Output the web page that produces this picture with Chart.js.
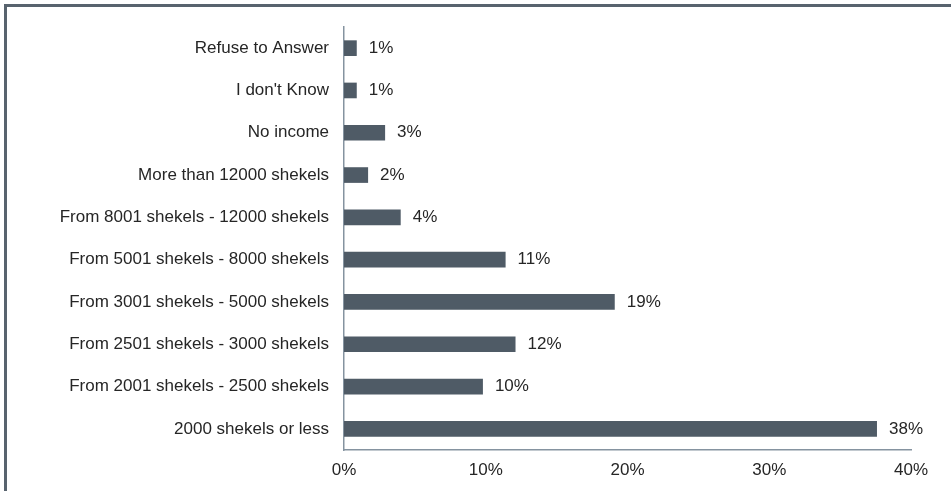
<!DOCTYPE html>
<html>
<head>
<meta charset="utf-8">
<script src="https://cdn.jsdelivr.net/npm/chart.js@4/dist/chart.umd.min.js"></script>
<style>
  html, body { margin: 0; padding: 0; background: #ffffff; }
  #wrap { position: relative; width: 951px; height: 491px; overflow: hidden; }
  #frame {
    position: absolute; left: 4px; top: 4px; right: -10px; bottom: -10px;
    border-left: 3px solid #58636e; border-top: 3px solid #58636e;
  }
  #chart { position: absolute; left: 0; top: 0; }
</style>
</head>
<body>
<div id="wrap">
  <div id="frame"></div>
  <canvas id="chart" width="951" height="491"></canvas>
</div>
<script>
// Monthly income brackets (top to bottom) and share of respondents, in percent
const categories = [
  "Refuse to Answer",
  "I don't Know",
  "No income",
  "More than 12000 shekels",
  "From 8001 shekels - 12000 shekels",
  "From 5001 shekels - 8000 shekels",
  "From 3001 shekels - 5000 shekels",
  "From 2501 shekels - 3000 shekels",
  "From 2001 shekels - 2500 shekels",
  "2000 shekels or less"
];
const shares = [0.9, 0.9, 2.9, 1.7, 4.0, 11.4, 19.1, 12.1, 9.8, 37.6];
const xTicks = [0, 10, 20, 30, 40];

const FONT = '"Liberation Sans", Arial, Helvetica, sans-serif';
const TEXT = '#262626';
const BAR = '#4f5b66';
const AXIS = '#8593a0';

// Writes the rounded percentage just past the end of every bar
const valueLabels = {
  id: 'valueLabels',
  afterDatasetsDraw(chart) {
    const ctx = chart.ctx;
    const meta = chart.getDatasetMeta(0);
    const values = chart.data.datasets[0].data;
    ctx.save();
    ctx.font = '17px ' + FONT;
    ctx.fillStyle = TEXT;
    ctx.textAlign = 'left';
    ctx.textBaseline = 'middle';
    meta.data.forEach((bar, i) => {
      ctx.fillText(Math.round(values[i]) + '%', bar.x + 12, bar.y);
    });
    ctx.restore();
  }
};

new Chart(document.getElementById('chart'), {
  type: 'bar',
  data: {
    labels: categories,
    datasets: [{
      data: shares,
      backgroundColor: BAR,
      borderWidth: 0,
      categoryPercentage: 1,
      barPercentage: 0.37
    }]
  },
  options: {
    indexAxis: 'y',
    responsive: false,
    animation: false,
    devicePixelRatio: 1,
    layout: { padding: { top: 27, right: 40, bottom: 0, left: 0 } },
    plugins: {
      legend: { display: false },
      tooltip: { enabled: false }
    },
    scales: {
      x: {
        min: 0,
        max: 40,
        afterBuildTicks: (s) => { s.ticks = xTicks.map(v => ({ value: v })); },
        afterFit: (s) => { s.height = 41; },
        grid: { display: false, drawTicks: false },
        border: { display: true, color: AXIS, width: 1.5 },
        ticks: {
          padding: 10,
          color: TEXT,
          font: { family: FONT, size: 17 },
          callback: (v) => v + '%'
        }
      },
      y: {
        afterFit: (s) => { s.width = 344; },
        grid: { display: false, drawTicks: false },
        border: { display: true, color: AXIS, width: 1.5 },
        ticks: {
          padding: 15,
          color: TEXT,
          font: { family: FONT, size: 17 },
          autoSkip: false
        }
      }
    }
  },
  plugins: [valueLabels]
});
</script>
</body>
</html>
